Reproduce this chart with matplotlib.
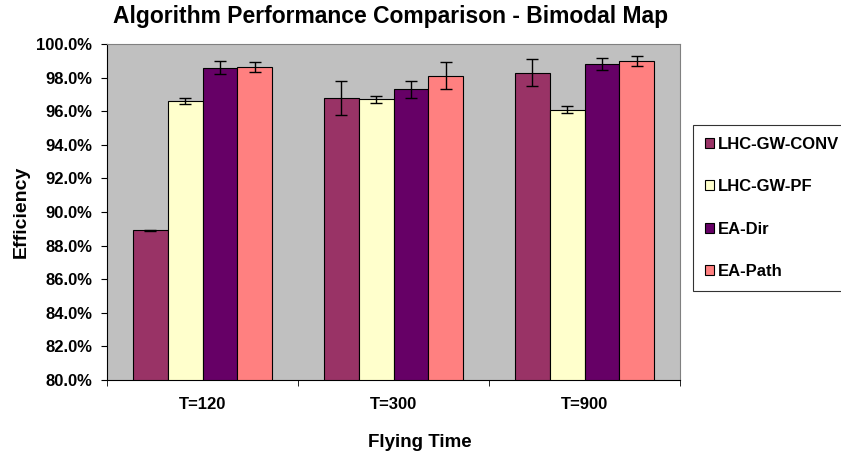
import matplotlib
matplotlib.use('Agg')
import matplotlib.pyplot as plt
import numpy as np
from matplotlib.ticker import FuncFormatter

# данные
groups = ['T=120', 'T=300', 'T=900']
names = ['LHC-GW-CONV', 'LHC-GW-PF', 'EA-Dir', 'EA-Path']
conv = [88.9, 96.8, 98.3]
pf = [96.6, 96.7, 96.1]
ea_dir = [98.6, 97.3, 98.8]
ea_path = [98.65, 98.1, 99.0]
conv_err = [0.02, 1.0, 0.8]
pf_err = [0.2, 0.2, 0.2]
dir_err = [0.4, 0.5, 0.35]
path_err = [0.3, 0.8, 0.3]

colors = ['#993366', '#FFFFCC', '#660066', '#FF8080']

plt.rcParams['font.family'] = ['Liberation Sans', 'DejaVu Sans']
plt.rcParams['font.weight'] = 'bold'

fig = plt.figure(figsize=(8.41, 4.59), dpi=100)
ax = fig.add_axes([107/841, 1-380/459, (680-107)/841, (380-44)/459])
ax.set_facecolor('#C0C0C0')

x = np.arange(len(groups))
w = 0.182
series = [conv, pf, ea_dir, ea_path]
errs = [conv_err, pf_err, dir_err, path_err]
for i in range(4):
	pos = x + (i - 1.5) * w
	ax.bar(pos, series[i], w, color=colors[i], edgecolor='black', linewidth=0.8, label=names[i])
	ax.errorbar(pos, series[i], yerr=errs[i], fmt='none', ecolor='black', elinewidth=1, capsize=4, capthick=1)

ax.set_xlim(-0.5, 2.5)
ax.set_ylim(80, 100)
ax.set_yticks(np.arange(80, 100.1, 2))
ax.yaxis.set_major_formatter(FuncFormatter(lambda v, p: '%.1f%%' % v))
ax.set_xticks(x)
ax.set_xticklabels(groups)
ax.set_xticks([-0.5, 0.5, 1.5, 2.5], minor=True)
ax.tick_params(axis='x', which='major', length=0, pad=12, labelsize=12)
ax.tick_params(axis='x', which='minor', length=4, direction='out')
ax.tick_params(axis='y', length=4, direction='out', pad=6.5, labelsize=12)
for s in ['top', 'right']:
	ax.spines[s].set_color('#808080')
for s in ['left', 'bottom']:
	ax.spines[s].set_color('black')

ax.set_ylabel('Efficiency', fontsize=14, fontweight='bold')
ax.yaxis.set_label_coords((30-107)/573, 0.5)
ax.set_xlabel('Flying Time', fontsize=13.5, fontweight='bold')
ax.xaxis.set_label_coords((420-107)/573, (380-434)/336)
fig.text(391/841, 1-16/459, 'Algorithm Performance Comparison - Bimodal Map', ha='center', va='center', fontsize=16.5, fontweight='bold')

leg = fig.legend(loc='upper left', bbox_to_anchor=(693/841, 1-125/459), fontsize=12, frameon=True, fancybox=False, edgecolor='black', labelspacing=1.65, handlelength=0.55, handleheight=0.55, handletextpad=0.25, borderpad=0.7, borderaxespad=0)
leg.get_frame().set_linewidth(0.8)

fig.savefig('out.png', dpi=100)
